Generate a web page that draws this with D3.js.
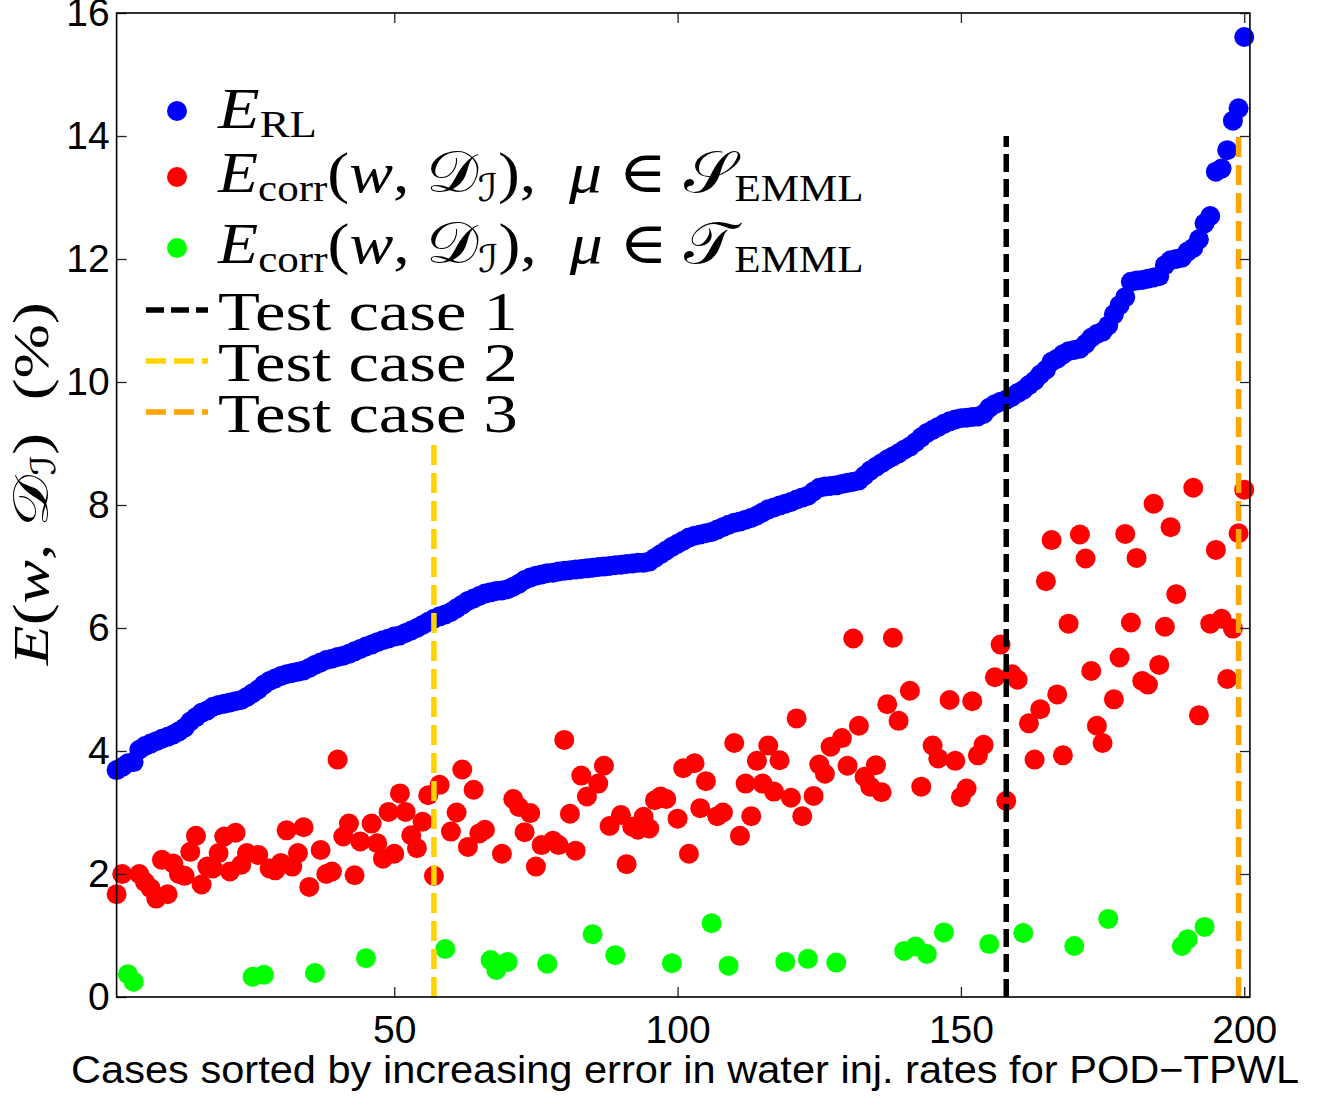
<!DOCTYPE html>
<html><head><meta charset="utf-8">
<script src="https://cdn.jsdelivr.net/npm/d3@7"></script>
<style>html,body{margin:0;padding:0;background:#fff;} svg{display:block}</style>
</head><body>
<svg id="c" width="1322" height="1117"></svg>
<script>
// ---- data ----
const xTicks = [50, 100, 150, 200];
const yTicks = [0, 2, 4, 6, 8, 10, 12, 14, 16];

// E_RL for cases 1..200 (sorted)
const blueValues = [
  3.69, 3.74, 3.80, 3.82, 4.02, 4.08, 4.12, 4.16, 4.20, 4.23,
  4.27, 4.32, 4.38, 4.48, 4.55, 4.62, 4.66, 4.72, 4.75, 4.77,
  4.79, 4.81, 4.83, 4.88, 4.94, 5.00, 5.08, 5.14, 5.18, 5.22,
  5.25, 5.27, 5.29, 5.31, 5.35, 5.40, 5.44, 5.48, 5.50, 5.53,
  5.55, 5.58, 5.62, 5.66, 5.70, 5.73, 5.77, 5.80, 5.83, 5.86,
  5.88, 5.92, 5.96, 6.00, 6.05, 6.10, 6.15, 6.19, 6.22, 6.26,
  6.32, 6.38, 6.44, 6.48, 6.52, 6.56, 6.58, 6.60, 6.61, 6.63,
  6.67, 6.72, 6.78, 6.82, 6.85, 6.87, 6.89, 6.90, 6.92, 6.93,
  6.94, 6.95, 6.96, 6.97, 6.98, 6.99, 7.00, 7.01, 7.02, 7.03,
  7.04, 7.05, 7.06, 7.06, 7.08, 7.14, 7.20, 7.26, 7.32, 7.37,
  7.42, 7.47, 7.50, 7.52, 7.54, 7.56, 7.60, 7.64, 7.68, 7.71,
  7.73, 7.76, 7.79, 7.83, 7.88, 7.93, 7.96, 7.99, 8.02, 8.05,
  8.09, 8.12, 8.15, 8.22, 8.28, 8.30, 8.31, 8.32, 8.34, 8.36,
  8.38, 8.40, 8.48, 8.56, 8.62, 8.68, 8.74, 8.79, 8.84, 8.90,
  8.95, 9.02, 9.10, 9.17, 9.22, 9.27, 9.32, 9.36, 9.39, 9.41,
  9.42, 9.43, 9.44, 9.48, 9.58, 9.64, 9.68, 9.71, 9.76, 9.82,
  9.87, 9.95, 10.02, 10.12, 10.20, 10.33, 10.38, 10.45, 10.50, 10.52,
  10.54, 10.62, 10.72, 10.78, 10.82, 10.92, 11.10, 11.25, 11.38, 11.63,
  11.65, 11.66, 11.68, 11.70, 11.72, 11.90, 11.98, 12.00, 12.02, 12.12,
  12.18, 12.32, 12.58, 12.70, 13.42, 13.47, 13.77, 14.25, 14.45, 15.61
];

// E_corr, mu in T_EMML (green)
const greenCases  = [3, 4, 25, 27, 36, 45, 59, 67, 68, 70, 77, 85, 89, 99, 106, 109, 119, 123, 128, 140, 142, 144, 147, 155, 161, 170, 176, 189, 190, 193];
const greenValues = [0.37, 0.25, 0.33, 0.36, 0.39, 0.63, 0.78, 0.60, 0.44, 0.57, 0.54, 1.02, 0.68, 0.55, 1.20, 0.51, 0.57, 0.62, 0.56, 0.75, 0.82, 0.70, 1.05, 0.86, 1.04, 0.83, 1.27, 0.83, 0.94, 1.14];

// E_corr, mu in S_EMML (red)
const redCases = [
  1, 2, 5, 6, 7, 8, 9, 10, 11, 12, 13, 14, 15, 16, 17, 18, 19, 20, 21, 22, 23, 24, 26, 28, 29, 30,
  31, 32, 33, 34, 35, 37, 38, 39, 40, 41, 42, 43, 44, 46, 47, 48, 49, 50,
  51, 52, 53, 54, 55, 56, 57, 58, 60, 61, 62, 63, 64, 65, 66, 69, 71, 72, 73, 74, 75, 76, 78, 79, 80,
  81, 82, 83, 84, 86, 87, 88, 90, 91, 92, 93, 94, 95, 96, 97, 98, 100,
  101, 102, 103, 104, 105, 107, 108, 110, 111, 112, 113, 114, 115, 116, 117, 118, 120,
  121, 122, 124, 125, 126, 127, 129, 130, 131, 132, 133, 134, 135, 136, 137, 138, 139, 141, 143, 145, 146, 148, 149, 150,
  151, 152, 153, 154, 156, 157, 158, 159, 160, 162, 163, 164, 165, 166, 167, 168, 169, 171, 172, 173, 174, 175, 177, 178, 179, 180,
  181, 182, 183, 184, 185, 186, 187, 188, 191, 192, 194, 195, 196, 197, 198, 199, 200
];
const redValues = [
  1.67, 2.00, 2.00, 1.87, 1.77, 1.60, 2.23, 1.67, 2.17, 2.00, 1.97, 2.36, 2.62, 1.83, 2.12, 2.09, 2.34, 2.61, 2.04, 2.67, 2.15, 2.34, 2.31, 2.09, 2.06, 2.18,
  2.71, 2.12, 2.34, 2.76, 1.79, 2.39, 2.00, 2.04, 3.86, 2.61, 2.82, 1.98, 2.53, 2.82, 2.50, 2.25, 3.01, 2.33,
  3.31, 3.01, 2.63, 2.42, 2.85, 3.28, 1.97, 3.45, 2.69, 3.00, 3.70, 2.44, 3.37, 2.66, 2.72, 2.33, 3.22, 3.09, 2.68, 2.99, 2.12, 2.47, 2.54, 2.47, 4.18,
  2.98, 2.38, 3.60, 3.26, 3.47, 3.76, 2.78, 2.96, 2.16, 2.77, 2.72, 2.93, 2.74, 3.20, 3.26, 3.22, 2.90,
  3.72, 2.33, 3.80, 3.07, 3.51, 2.94, 3.00, 4.13, 2.62, 3.47, 2.94, 3.84, 3.47, 4.09, 3.34, 3.85, 3.24,
  4.53, 2.94, 3.27, 3.78, 3.63, 4.07, 4.21, 3.76, 5.83, 4.41, 3.58, 3.42, 3.77, 3.33, 4.76, 5.84, 4.49, 4.98, 3.42, 4.09, 3.88, 4.83, 3.84, 3.25,
  3.39, 4.81, 3.93, 4.10, 5.20, 5.73, 3.19, 5.25, 5.16, 4.45, 3.86, 4.68, 6.76, 7.43, 4.92, 3.93, 6.07, 7.52, 7.13, 5.30, 4.41, 4.13, 4.84, 5.52, 7.53, 6.09,
  7.14, 5.14, 5.08, 8.02, 5.40, 6.02, 7.64, 6.55, 8.28, 4.58, 6.07, 7.27, 6.15, 5.17, 5.99, 7.54, 8.25
];

// test-case vertical lines
const testCases  = [158, 57, 199];
const testTops   = [14, 9, 14];
const testLabels = ["Test case 1", "Test case 2", "Test case 3"];
const testColors = ["#000000", "#FFD200", "#FFA500"];

// ---- drawing ----
const svg = d3.select("#c");
const L = 116.6, R = 1249.9, T = 13, B = 997;
const x = d3.scaleLinear().domain([1, 201]).range([L, R]);
const y = d3.scaleLinear().domain([0, 16]).range([B, T]);

const serif = "'Liberation Serif', 'DejaVu Serif', serif";
const scriptFont = "'DejaVu Sans', 'DejaVu Serif', 'Noto Sans', serif";
const sans = "'Liberation Sans', Arial, Helvetica, sans-serif";

// points
const R_PT = 10;
svg.append("g").selectAll("circle").data(blueValues).join("circle")
  .attr("cx", (d, i) => x(i + 1)).attr("cy", d => y(d)).attr("r", R_PT).attr("fill", "#0000FF");
svg.append("g").selectAll("circle").data(redValues).join("circle")
  .attr("cx", (d, i) => x(redCases[i])).attr("cy", d => y(d)).attr("r", R_PT).attr("fill", "#FF0000");
svg.append("g").selectAll("circle").data(greenValues).join("circle")
  .attr("cx", (d, i) => x(greenCases[i])).attr("cy", d => y(d)).attr("r", R_PT).attr("fill", "#00FF00");

// vertical dashed lines
svg.append("g").selectAll("line").data(testCases).join("line")
  .attr("x1", d => x(d)).attr("x2", d => x(d))
  .attr("y1", y(0)).attr("y2", (d, i) => y(testTops[i]))
  .attr("stroke", (d, i) => testColors[i]).attr("stroke-width", 5.5)
  .attr("stroke-dasharray", (d, i) => i === 0 ? "18,7" : "20,8");

// axes
const axG = svg.append("g");
const styleAxis = g => {
  g.attr("font-family", sans);
  g.select(".domain").remove();
  g.selectAll(".tick line").attr("stroke", "#222").attr("stroke-width", 1.3);
  g.selectAll(".tick text").attr("font-size", 39).attr("fill", "#000").attr("font-family", sans);
};
axG.append("g").attr("transform", `translate(0,${B})`)
  .call(d3.axisBottom(x).tickValues(xTicks).tickSize(-10).tickSizeOuter(0).tickPadding(18)).call(styleAxis);
axG.append("g").attr("transform", `translate(0,${T})`)
  .call(d3.axisTop(x).tickValues(xTicks).tickSize(-10).tickSizeOuter(0).tickFormat("")).call(styleAxis);
axG.append("g").attr("transform", `translate(${L},0)`)
  .call(d3.axisLeft(y).tickValues(yTicks).tickSize(-10).tickSizeOuter(0).tickPadding(7)).call(styleAxis);
axG.append("g").attr("transform", `translate(${R},0)`)
  .call(d3.axisRight(y).tickValues(yTicks).tickSize(-10).tickSizeOuter(0).tickFormat("")).call(styleAxis);
svg.append("rect").attr("x", L).attr("y", T).attr("width", R - L).attr("height", B - T)
  .attr("fill", "none").attr("stroke", "#000").attr("stroke-width", 1.6);

// x label
svg.append("text").attr("x", (70 + 1300) / 2).attr("y", 1083).attr("text-anchor", "middle")
  .attr("font-family", sans).attr("font-size", 38)
  .attr("textLength", 1228).attr("lengthAdjust", "spacingAndGlyphs")
  .text("Cases sorted by increasing error in water inj. rates for POD\u2212TPWL");

// math text helper
function mathText(parent, x0, y0, parts, size, subSize, subOff, targetW) {
  const t = parent.append("text").attr("x", x0).attr("y", y0).style("white-space", "pre").attr("fill", "#000");
  let cur = 0;
  parts.forEach(p => {
    const off = p.sub ? subOff : 0;
    t.append("tspan").text(p.t)
      .attr("dy", off - cur)
      .attr("font-size", p.sub ? subSize : size)
      .attr("font-style", p.i ? "italic" : "normal")
      .attr("font-family", p.s ? scriptFont : serif);
    cur = off;
  });
  if (targetW) {
    const w = t.node().getBBox().width;
    t.attr("transform", `translate(${x0},0) scale(${targetW / w},1) translate(${-x0},0)`);
  }
  return t;
}

// legend
const leg = svg.append("g");
const dotX = 177;
const legDots = [["#0000FF", 111], ["#FF0000", 177], ["#00FF00", 248]];
leg.selectAll("circle").data(legDots).join("circle")
  .attr("cx", dotX).attr("cy", d => d[1]).attr("r", 10).attr("fill", d => d[0]);

mathText(leg, 218, 128, [{t: "E", i: 1}, {t: "RL", sub: 1}], 58, 38, 9, 100);
const corrParts = (S) => [
  {t: "E", i: 1}, {t: "corr", sub: 1}, {t: "("}, {t: "w", i: 1}, {t: ", "},
  {t: "\uD835\uDC9F", s: 1}, {t: "\u2110", sub: 1, s: 1}, {t: "),  "}, {t: "\u03BC", i: 1},
  {t: " \u2208 "}, {t: S, s: 1}, {t: "EMML", sub: 1}
];
mathText(leg, 218, 192, corrParts("\uD835\uDCAE"), 58, 38, 9, 647);
mathText(leg, 218, 263, corrParts("\uD835\uDCAF"), 58, 38, 9, 647);

const lineYs = [310, 361, 412];
testLabels.forEach((lab, i) => {
  leg.append("line").attr("x1", 146).attr("x2", 208).attr("y1", lineYs[i]).attr("y2", lineYs[i])
    .attr("stroke", testColors[i]).attr("stroke-width", 5.5)
    .attr("stroke-dasharray", i === 0 ? "18,7" : "20,8");
  const t = leg.append("text").attr("x", 218).attr("y", lineYs[i] + 20)
    .attr("font-family", serif).attr("font-size", 55).attr("fill", "#000").text(lab);
  const w = t.node().getBBox().width;
  t.attr("transform", `translate(218,0) scale(${300 / w},1) translate(-218,0)`);
});

// y label (rotated)
const yl = svg.append("g").attr("transform", "translate(48,484) rotate(-90)");
const ylt = mathText(yl, 0, 0, [
  {t: "E", i: 1}, {t: "("}, {t: "w", i: 1}, {t: ", "}, {t: "\uD835\uDC9F", s: 1},
  {t: "\u2110", sub: 1, s: 1}, {t: ")  (%)"}
], 50, 34, 7, null);
{
  const bb = ylt.node().getBBox();
  ylt.attr("transform", `translate(${-182.5},0) scale(${365 / bb.width},1) translate(${-bb.x},0)`);
}
</script>
</body></html>
